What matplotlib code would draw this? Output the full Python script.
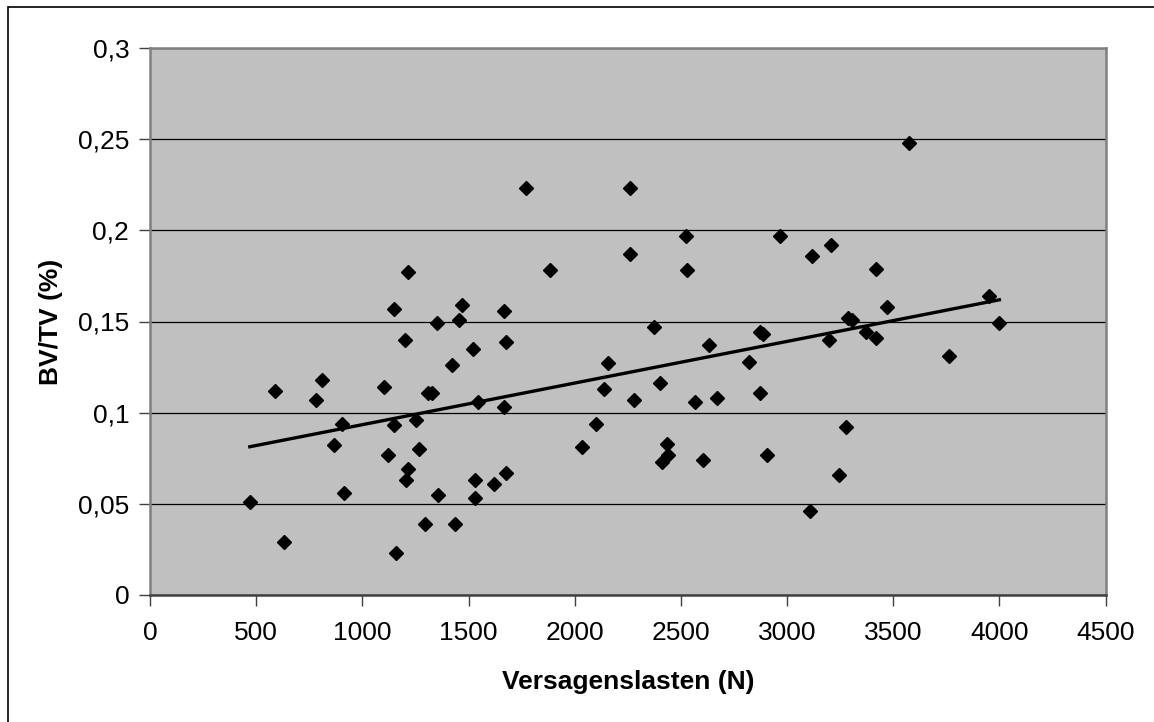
import numpy as np
import matplotlib
matplotlib.use("Agg")
import matplotlib.pyplot as plt
from matplotlib.patches import Rectangle

# Failure load (N) and bone volume fraction per specimen
load_n = [
    470, 591, 631, 781, 809, 867, 904, 915, 1104, 1151,
    1151, 1121, 1159, 1199, 1216, 1255, 1265, 1217, 1207, 1293,
    1309, 1330, 1350, 1358, 1424, 1435, 1454, 1471, 1520, 1530,
    1530, 1546, 1622, 1669, 1678, 1669, 1678, 1773, 1883, 2036,
    2100, 2137, 2156, 2259, 2259, 2278, 2372, 2400, 2437, 2410,
    2440, 2525, 2531, 2569, 2606, 2634, 2672, 2822, 2872, 2887,
    2872, 2906, 2966, 3109, 3117, 3208, 3277, 3247, 3200, 3286,
    3306, 3370, 3417, 3417, 3472, 3575, 3764, 3950, 4000,
]
bvtv = [
    0.051, 0.112, 0.029, 0.107, 0.118, 0.082, 0.094, 0.056, 0.114, 0.157,
    0.093, 0.077, 0.023, 0.140, 0.177, 0.096, 0.080, 0.069, 0.063, 0.039,
    0.111, 0.111, 0.149, 0.055, 0.126, 0.039, 0.151, 0.159, 0.135, 0.063,
    0.053, 0.106, 0.061, 0.156, 0.139, 0.103, 0.067, 0.223, 0.178, 0.081,
    0.094, 0.113, 0.127, 0.223, 0.187, 0.107, 0.147, 0.116, 0.083, 0.073,
    0.077, 0.197, 0.178, 0.106, 0.074, 0.137, 0.108, 0.128, 0.144, 0.143,
    0.111, 0.077, 0.197, 0.046, 0.186, 0.192, 0.092, 0.066, 0.140, 0.152,
    0.151, 0.144, 0.179, 0.141, 0.158, 0.248, 0.131, 0.164, 0.149,
]

x_ticks = [0, 500, 1000, 1500, 2000, 2500, 3000, 3500, 4000, 4500]
y_ticks = [0, 0.05, 0.1, 0.15, 0.2, 0.25, 0.3]
y_tick_labels = ["0", "0,05", "0,1", "0,15", "0,2", "0,25", "0,3"]

plt.rcParams["font.family"] = ["Liberation Sans", "DejaVu Sans"]

W, H = 1154, 722
fig = plt.figure(figsize=(W / 100, H / 100), dpi=100)
fig.patch.set_facecolor("white")

# Chart-area frame
fig.patches.append(Rectangle((8 / W, -0.1), 1.2, 1 - 7 / H + 0.1,
                             transform=fig.transFigure, fill=False,
                             edgecolor="black", linewidth=1.2))

ax = fig.add_axes([150 / W, (H - 595) / H, 955.5 / W, 547 / H])
ax.set_facecolor("#C0C0C0")
for side in ax.spines.values():
    side.set_color("#808080")
    side.set_linewidth(1.8)
ax.spines["bottom"].set_color("#404040")

ax.set_xlim(0, 4500)
ax.set_ylim(0, 0.3)
ax.set_xticks(x_ticks)
ax.set_xticklabels([str(t) for t in x_ticks])
ax.set_yticks(y_ticks)
ax.set_yticklabels(y_tick_labels)
ax.tick_params(direction="out", length=8, width=1, color="#404040",
               labelsize=19)
ax.tick_params(axis="x", pad=11)
ax.tick_params(axis="y", pad=7)

ax.grid(axis="y", color="black", linewidth=0.9)
ax.set_axisbelow(True)

ax.plot(load_n, bvtv, linestyle="none", marker="D", markersize=7.4,
        color="black", zorder=3)

# Linear trend line over the measured range
slope, intercept = np.polyfit(load_n, bvtv, 1)
xs = np.array([min(load_n), max(load_n)])
ax.plot(xs, slope * xs + intercept, color="black", linewidth=2.4, zorder=4)

ax.set_xlabel("Versagenslasten (N)", fontsize=19, fontweight="bold",
              labelpad=18)
ax.set_ylabel("BV/TV (%)", fontsize=19, fontweight="bold", labelpad=11)

fig.savefig("out.png", dpi=100, facecolor="white")
